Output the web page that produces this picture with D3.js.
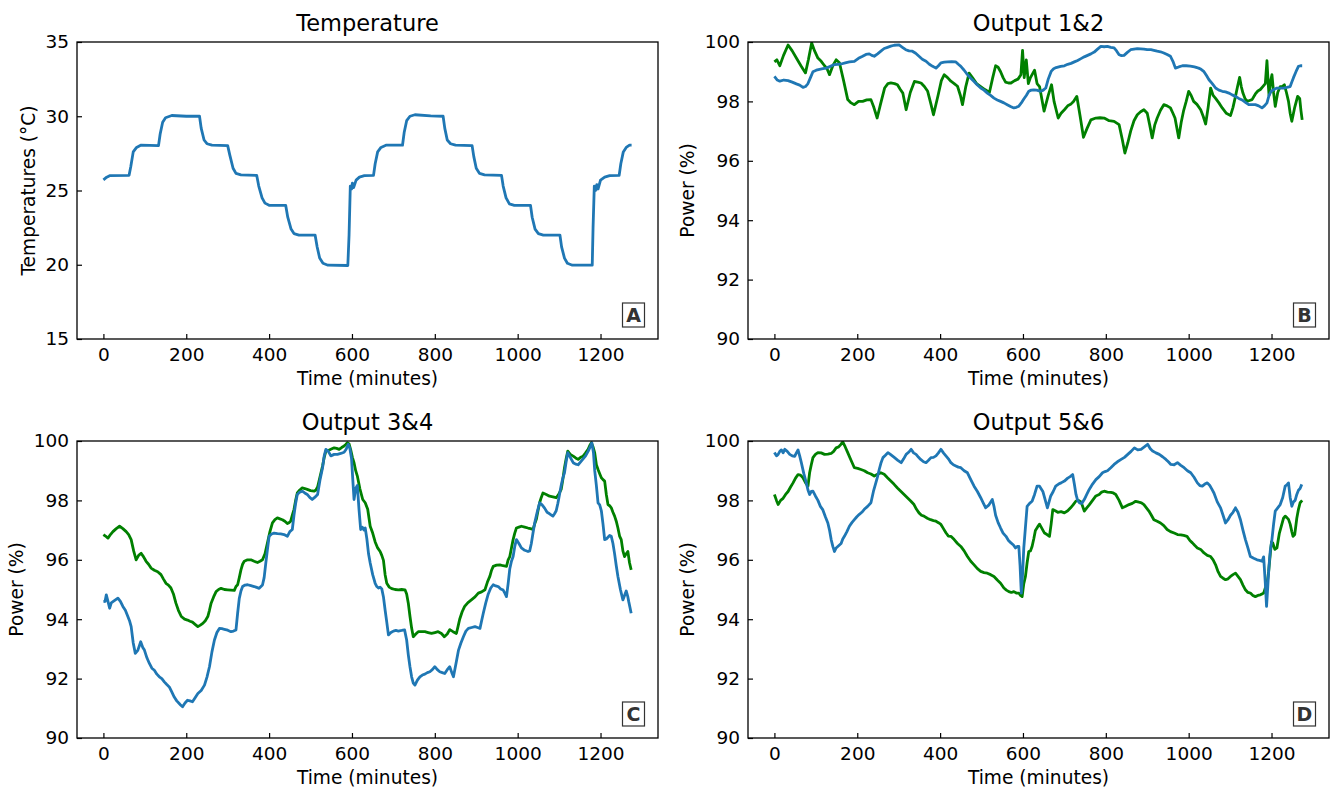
<!DOCTYPE html>
<html>
<head>
<meta charset="utf-8">
<script src="https://cdn.jsdelivr.net/npm/d3@7"></script>
<style>
  body { margin: 0; background: #fff; }
  svg { font-family: "DejaVu Sans", sans-serif; }
</style>
</head>
<body>
<div id="chart"></div>
<script>
// Values: [time (minutes), value]
const temperature = [[0,25.72],[8,25.9],[15,26.0],[62,26.02],[66,26.6],[72,27.6],[80,27.9],[90,28.05],[133,28.02],[137,28.8],[143,29.6],[150,29.9],[165,30.05],[200,30.0],[232,30.0],[236,29.2],[243,28.4],[250,28.15],[262,28.05],[300,28.02],[305,27.4],[313,26.5],[320,26.15],[332,26.05],[370,26.02],[375,25.3],[383,24.5],[390,24.15],[400,24.0],[440,24.0],[445,23.2],[453,22.4],[460,22.1],[472,22.0],[511,22.0],[516,21.2],[522,20.45],[530,20.1],[542,19.97],[590,19.95],[593,22.0],[596,25.3],[599,25.1],[601,25.5],[604,25.2],[610,25.7],[618,25.9],[630,26.0],[652,26.02],[656,26.8],[662,27.6],[670,27.9],[682,28.05],[722,28.05],[726,28.9],[732,29.7],[740,30.0],[752,30.1],[790,30.02],[820,30.0],[824,29.2],[830,28.4],[838,28.15],[850,28.05],[890,28.02],[894,27.3],[900,26.5],[908,26.15],[920,26.05],[961,26.02],[965,25.3],[972,24.5],[980,24.1],[992,24.0],[1031,24.0],[1035,23.2],[1042,22.4],[1050,22.1],[1062,22.0],[1102,22.0],[1106,21.2],[1113,20.45],[1120,20.1],[1132,19.97],[1180,19.97],[1182,22.5],[1185,25.3],[1188,25.0],[1191,25.4],[1194,25.1],[1200,25.7],[1210,25.9],[1222,26.0],[1245,26.02],[1249,26.8],[1255,27.6],[1262,27.9],[1270,28.05],[1275,28.05]];

const output1 = [[0,98.84],[7,98.72],[13,98.68],[23,98.72],[33,98.7],[43,98.65],[53,98.59],[61,98.55],[69,98.47],[75,98.5],[81,98.6],[87,98.8],[93,99.0],[101,99.05],[109,99.08],[117,99.1],[125,99.12],[135,99.18],[145,99.24],[153,99.25],[161,99.26],[171,99.3],[181,99.33],[193,99.35],[203,99.45],[213,99.52],[221,99.58],[229,99.6],[235,99.55],[241,99.52],[249,99.6],[257,99.69],[265,99.78],[273,99.82],[281,99.86],[289,99.89],[301,99.9],[309,99.82],[317,99.74],[325,99.7],[333,99.69],[341,99.62],[349,99.52],[357,99.42],[366,99.35],[374,99.25],[382,99.18],[390,99.12],[396,99.2],[402,99.3],[410,99.32],[418,99.33],[428,99.34],[438,99.33],[444,99.25],[450,99.18],[458,99.05],[466,98.9],[474,98.78],[482,98.67],[490,98.55],[498,98.45],[506,98.38],[514,98.28],[522,98.2],[530,98.11],[538,98.05],[546,98.0],[554,97.95],[562,97.89],[570,97.83],[578,97.78],[584,97.8],[590,97.84],[596,97.95],[602,98.08],[608,98.2],[614,98.34],[620,98.38],[626,98.39],[633,98.38],[643,98.34],[649,98.38],[655,98.45],[661,98.75],[668,99.01],[674,99.1],[680,99.14],[691,99.18],[700,99.2],[708,99.25],[716,99.28],[724,99.33],[732,99.38],[740,99.44],[748,99.5],[756,99.55],[764,99.6],[772,99.66],[780,99.76],[788,99.85],[796,99.84],[804,99.85],[812,99.82],[820,99.8],[826,99.7],[832,99.57],[838,99.54],[844,99.55],[852,99.65],[860,99.74],[868,99.76],[876,99.78],[884,99.77],[892,99.76],[900,99.74],[909,99.74],[916,99.72],[924,99.69],[932,99.67],[940,99.63],[948,99.58],[956,99.52],[962,99.35],[968,99.12],[976,99.16],[985,99.2],[994,99.2],[1004,99.19],[1014,99.16],[1024,99.12],[1030,99.08],[1037,99.0],[1043,98.87],[1049,98.73],[1057,98.6],[1065,98.45],[1073,98.38],[1081,98.34],[1089,98.32],[1097,98.28],[1105,98.22],[1113,98.17],[1121,98.1],[1129,98.05],[1137,97.97],[1145,97.89],[1153,97.89],[1161,97.89],[1169,97.85],[1177,97.78],[1183,97.85],[1189,97.95],[1194,98.2],[1199,98.34],[1206,98.4],[1213,98.45],[1221,98.45],[1229,98.45],[1237,98.47],[1245,98.5],[1249,98.65],[1253,98.8],[1259,99.0],[1265,99.18],[1270,99.2],[1274,99.2]];

const output2 = [[0,99.33],[6,99.4],[13,99.2],[22,99.55],[33,99.9],[43,99.7],[53,99.46],[64,99.2],[75,98.96],[82,99.4],[90,99.97],[97,99.7],[105,99.46],[113,99.35],[121,99.2],[127,99.1],[133,98.9],[141,99.2],[149,99.4],[157,99.3],[167,98.7],[177,98.06],[185,97.95],[193,97.89],[203,98.0],[213,98.0],[223,98.05],[233,98.06],[240,97.8],[248,97.44],[256,97.9],[266,98.45],[274,98.6],[281,98.62],[290,98.6],[297,98.56],[304,98.4],[310,98.28],[318,97.72],[328,98.3],[338,98.67],[346,98.65],[354,98.62],[362,98.5],[370,98.34],[378,97.9],[384,97.55],[395,98.2],[403,98.7],[410,98.9],[418,98.8],[426,98.68],[434,98.6],[442,98.51],[449,98.2],[454,97.89],[462,98.5],[470,98.95],[478,98.8],[488,98.6],[498,98.5],[508,98.4],[519,98.3],[527,98.8],[534,99.2],[540,99.15],[546,99.0],[552,98.8],[558,98.65],[565,98.62],[571,98.62],[580,98.7],[588,98.75],[595,98.9],[599,99.72],[603,98.8],[608,99.4],[613,98.6],[618,98.8],[622,98.9],[628,99.05],[634,98.6],[640,98.5],[651,97.67],[661,98.2],[669,98.56],[675,98.0],[685,97.44],[692,97.6],[700,97.72],[708,97.85],[715,97.9],[722,98.0],[730,98.17],[738,97.5],[746,96.79],[755,97.1],[764,97.38],[776,97.44],[786,97.45],[796,97.44],[808,97.35],[820,97.33],[832,97.22],[840,96.7],[846,96.26],[853,96.6],[860,97.0],[868,97.35],[876,97.55],[884,97.65],[892,97.72],[900,97.6],[906,97.2],[912,96.77],[918,97.2],[924,97.44],[932,97.7],[940,97.89],[948,97.85],[956,97.78],[962,97.6],[967,97.44],[976,96.77],[982,97.3],[988,97.7],[994,98.0],[1000,98.34],[1006,98.2],[1012,98.0],[1020,97.9],[1029,97.72],[1035,97.5],[1041,97.24],[1047,97.8],[1053,98.45],[1059,98.2],[1065,98.1],[1073,97.95],[1081,97.78],[1091,97.6],[1101,97.52],[1107,97.8],[1113,98.17],[1118,98.5],[1123,98.81],[1127,98.5],[1131,98.28],[1136,98.1],[1141,98.0],[1147,98.03],[1153,98.06],[1161,98.25],[1167,98.35],[1173,98.4],[1179,98.5],[1185,98.6],[1189,99.37],[1192,98.6],[1194,98.2],[1198,98.7],[1201,98.9],[1205,98.3],[1209,97.83],[1215,98.3],[1221,98.5],[1226,98.5],[1231,98.56],[1236,98.3],[1241,98.0],[1245,97.6],[1249,97.33],[1256,97.8],[1263,98.17],[1268,98.1],[1271,97.7],[1274,97.38]];

const output3 = [[0,94.59],[4,94.6],[7,94.82],[11,94.6],[15,94.37],[19,94.55],[23,94.59],[29,94.65],[35,94.71],[41,94.6],[47,94.43],[53,94.3],[59,94.09],[63,93.95],[67,93.75],[72,93.2],[77,92.85],[83,92.95],[90,93.24],[95,93.05],[99,92.96],[105,92.7],[111,92.51],[117,92.35],[123,92.28],[129,92.15],[135,92.06],[141,92.0],[147,91.89],[153,91.8],[159,91.72],[165,91.55],[171,91.38],[177,91.25],[183,91.16],[187,91.1],[191,91.05],[197,91.18],[203,91.27],[209,91.25],[215,91.22],[221,91.35],[228,91.5],[236,91.6],[244,91.78],[250,92.05],[256,92.4],[262,92.9],[268,93.3],[274,93.55],[280,93.69],[286,93.68],[292,93.66],[300,93.63],[308,93.58],[314,93.6],[320,93.64],[324,94.2],[328,94.7],[332,94.95],[336,95.1],[342,95.15],[348,95.16],[356,95.13],[364,95.1],[370,95.07],[376,95.04],[384,95.15],[388,95.4],[392,95.89],[396,96.35],[400,96.79],[406,96.87],[412,96.9],[420,96.88],[428,96.87],[436,96.85],[444,96.79],[450,96.95],[456,97.02],[460,97.5],[464,97.9],[468,98.2],[474,98.28],[480,98.31],[486,98.25],[492,98.2],[498,98.1],[504,98.03],[510,98.1],[517,98.2],[523,98.7],[529,99.1],[533,99.5],[537,99.72],[543,99.65],[549,99.5],[557,99.55],[565,99.55],[573,99.58],[581,99.62],[586,99.72],[591,99.89],[595,99.75],[599,99.4],[602,98.7],[605,98.03],[609,98.4],[613,98.5],[617,97.7],[621,97.02],[625,97.1],[629,97.0],[632,97.07],[636,96.7],[640,96.2],[644,95.89],[650,95.5],[656,95.21],[660,95.1],[664,95.05],[668,95.08],[672,95.02],[676,94.75],[680,94.31],[684,93.9],[688,93.47],[694,93.55],[700,93.6],[706,93.62],[712,93.6],[720,93.62],[727,93.64],[732,93.3],[736,92.8],[740,92.4],[744,92.06],[748,91.85],[752,91.78],[758,91.95],[764,92.06],[770,92.12],[776,92.15],[782,92.2],[788,92.23],[794,92.3],[800,92.4],[806,92.3],[812,92.23],[818,92.2],[824,92.17],[830,92.3],[836,92.4],[841,92.2],[845,92.06],[851,92.5],[857,92.95],[863,93.2],[869,93.41],[875,93.6],[881,93.69],[889,93.72],[897,93.75],[903,93.72],[909,93.69],[913,93.95],[917,94.2],[923,94.55],[929,94.85],[935,95.05],[941,95.16],[947,95.12],[953,95.1],[959,95.02],[965,94.98],[969,94.88],[973,94.76],[977,95.2],[981,95.7],[985,95.95],[989,96.11],[993,96.45],[997,96.68],[1003,96.55],[1009,96.4],[1017,96.32],[1025,96.28],[1029,96.3],[1033,96.55],[1037,96.9],[1041,97.24],[1047,97.6],[1053,97.92],[1059,97.85],[1065,97.74],[1071,97.6],[1077,97.55],[1085,97.47],[1089,97.55],[1093,97.65],[1097,97.9],[1101,98.2],[1105,98.5],[1109,98.75],[1113,98.93],[1117,99.3],[1121,99.61],[1127,99.45],[1134,99.27],[1140,99.22],[1146,99.2],[1152,99.3],[1158,99.4],[1164,99.5],[1170,99.65],[1175,99.8],[1179,99.94],[1183,99.6],[1186,99.0],[1190,98.5],[1194,97.92],[1198,97.85],[1202,97.65],[1206,97.2],[1210,96.68],[1214,96.7],[1218,96.76],[1222,96.82],[1226,96.79],[1230,96.55],[1234,96.2],[1238,95.8],[1242,95.44],[1248,95.0],[1254,94.65],[1258,94.8],[1262,94.95],[1266,94.75],[1268,94.6],[1271,94.4],[1274,94.2]];

const output4 = [[0,96.85],[5,96.8],[11,96.73],[17,96.85],[23,96.95],[31,97.05],[39,97.13],[47,97.05],[55,96.95],[61,96.85],[67,96.68],[73,96.3],[79,96.0],[85,96.15],[91,96.22],[97,96.1],[103,95.95],[109,95.85],[115,95.72],[123,95.65],[131,95.6],[139,95.5],[145,95.35],[151,95.21],[157,95.15],[163,95.05],[169,94.85],[175,94.54],[181,94.3],[188,94.09],[196,94.0],[203,93.97],[209,93.93],[215,93.9],[222,93.82],[228,93.75],[234,93.8],[240,93.86],[246,93.95],[252,94.09],[256,94.3],[260,94.54],[266,94.75],[272,94.93],[278,95.0],[284,95.04],[292,95.0],[300,94.99],[308,94.98],[316,94.97],[320,95.1],[324,95.16],[328,95.4],[332,95.66],[336,95.85],[340,95.95],[348,96.0],[356,96.0],[364,95.95],[372,95.91],[378,95.95],[384,96.0],[390,96.2],[396,96.57],[402,96.95],[408,97.24],[414,97.35],[420,97.41],[426,97.38],[432,97.35],[438,97.3],[444,97.22],[448,97.25],[452,97.3],[456,97.5],[460,97.69],[464,98.0],[468,98.25],[474,98.35],[480,98.42],[486,98.4],[492,98.37],[500,98.33],[509,98.31],[513,98.35],[517,98.45],[523,98.8],[529,99.16],[533,99.45],[537,99.66],[543,99.68],[549,99.72],[557,99.77],[563,99.75],[569,99.72],[575,99.78],[581,99.83],[585,99.88],[589,99.94],[593,99.9],[597,99.7],[601,99.45],[605,99.27],[609,99.0],[613,98.82],[619,98.4],[626,98.03],[632,97.92],[638,97.7],[644,97.13],[650,96.9],[656,96.6],[662,96.4],[668,96.28],[672,96.15],[676,95.98],[680,95.5],[684,95.21],[690,95.08],[696,95.03],[704,95.0],[712,94.99],[720,95.0],[728,94.99],[732,94.85],[736,94.54],[740,94.1],[744,93.7],[748,93.41],[754,93.5],[760,93.58],[768,93.58],[776,93.58],[784,93.55],[792,93.52],[800,93.55],[808,93.58],[816,93.52],[823,93.41],[830,93.5],[836,93.65],[844,93.58],[852,93.52],[856,93.75],[860,94.0],[866,94.25],[872,94.43],[880,94.56],[889,94.66],[897,94.75],[905,94.88],[913,94.92],[921,94.99],[927,95.25],[933,95.45],[937,95.65],[941,95.78],[949,95.82],[957,95.83],[965,95.8],[973,95.78],[977,96.0],[981,96.11],[985,96.4],[989,96.68],[993,96.9],[997,97.07],[1003,97.1],[1009,97.13],[1017,97.1],[1025,97.07],[1031,97.05],[1037,97.02],[1041,97.2],[1045,97.36],[1049,97.65],[1053,97.92],[1057,98.1],[1061,98.25],[1069,98.2],[1077,98.14],[1085,98.12],[1093,98.09],[1099,98.2],[1105,98.37],[1109,98.7],[1113,99.1],[1117,99.4],[1121,99.66],[1127,99.55],[1134,99.49],[1140,99.43],[1146,99.38],[1152,99.45],[1158,99.49],[1164,99.6],[1170,99.72],[1174,99.85],[1178,99.94],[1182,99.8],[1186,99.6],[1190,99.2],[1194,99.04],[1198,98.9],[1202,98.76],[1206,98.7],[1210,98.65],[1214,98.2],[1218,97.86],[1222,97.82],[1226,97.75],[1230,97.6],[1234,97.47],[1238,97.3],[1242,97.07],[1246,96.8],[1250,96.68],[1254,96.3],[1258,96.11],[1262,96.2],[1266,96.28],[1270,95.9],[1274,95.66]];

const output5 = [[0,99.61],[5,99.5],[9,99.55],[13,99.65],[17,99.7],[21,99.6],[25,99.72],[31,99.65],[37,99.55],[43,99.5],[49,99.48],[53,99.6],[57,99.7],[61,99.5],[65,99.27],[71,98.9],[77,98.59],[81,98.35],[85,98.2],[89,98.3],[93,98.31],[99,98.15],[105,98.0],[111,97.8],[117,97.68],[123,97.45],[129,97.24],[133,97.0],[137,96.68],[141,96.45],[145,96.28],[149,96.4],[153,96.45],[157,96.5],[161,96.55],[165,96.7],[169,96.79],[175,96.95],[181,97.13],[187,97.25],[193,97.35],[199,97.45],[205,97.53],[211,97.6],[217,97.7],[225,97.8],[233,97.92],[239,98.3],[245,98.6],[249,98.8],[253,99.04],[257,99.25],[262,99.44],[268,99.52],[274,99.61],[280,99.55],[290,99.44],[298,99.35],[306,99.27],[312,99.4],[318,99.55],[324,99.62],[330,99.72],[336,99.6],[342,99.55],[348,99.45],[353,99.38],[360,99.3],[366,99.27],[372,99.35],[378,99.44],[384,99.45],[390,99.5],[396,99.6],[402,99.72],[408,99.6],[414,99.5],[420,99.4],[426,99.27],[432,99.2],[438,99.16],[444,99.12],[450,99.1],[458,99.0],[466,98.93],[474,98.7],[482,98.48],[490,98.3],[498,98.09],[504,97.92],[510,97.75],[518,97.85],[526,98.03],[530,97.8],[534,97.5],[540,97.25],[546,97.07],[552,96.9],[559,96.79],[565,96.65],[571,96.57],[577,96.5],[582,96.4],[586,96.45],[590,96.45],[593,95.8],[596,94.88],[599,95.5],[602,96.4],[606,97.1],[610,97.8],[616,97.9],[622,97.97],[628,98.2],[634,98.48],[640,98.48],[648,98.3],[654,98.0],[659,97.75],[663,97.95],[667,98.15],[673,98.3],[679,98.48],[686,98.55],[692,98.59],[700,98.65],[708,98.75],[714,98.8],[720,98.87],[724,98.55],[728,98.2],[732,98.0],[736,97.92],[742,97.9],[748,98.03],[754,98.2],[760,98.37],[768,98.55],[776,98.7],[784,98.8],[792,98.93],[798,98.97],[804,99.0],[812,99.1],[820,99.21],[828,99.3],[837,99.38],[845,99.45],[853,99.55],[861,99.65],[869,99.77],[877,99.7],[885,99.72],[893,99.8],[901,99.89],[907,99.75],[913,99.66],[921,99.6],[929,99.55],[937,99.47],[945,99.38],[951,99.3],[957,99.21],[965,99.2],[973,99.27],[981,99.18],[989,99.1],[997,99.0],[1005,98.93],[1013,98.78],[1021,98.59],[1027,98.5],[1033,98.48],[1039,98.55],[1045,98.59],[1051,98.5],[1056,98.38],[1061,98.25],[1069,97.95],[1077,97.75],[1083,97.5],[1089,97.24],[1095,97.35],[1101,97.5],[1107,97.6],[1113,97.75],[1119,97.6],[1125,97.35],[1131,97.0],[1137,96.68],[1143,96.4],[1149,96.11],[1157,96.05],[1165,96.0],[1171,95.98],[1177,95.95],[1181,96.1],[1185,95.21],[1188,94.43],[1191,95.1],[1194,95.8],[1197,96.3],[1201,96.68],[1205,97.2],[1209,97.64],[1215,97.75],[1221,97.86],[1227,98.1],[1233,98.48],[1237,98.52],[1241,98.59],[1245,98.1],[1249,97.8],[1253,97.95],[1257,98.0],[1261,98.2],[1265,98.34],[1269,98.4],[1273,98.54]];

const output6 = [[0,98.2],[5,98.0],[9,97.86],[15,98.0],[21,98.07],[27,98.2],[33,98.3],[39,98.45],[45,98.59],[51,98.75],[57,98.87],[63,98.85],[69,98.76],[75,98.6],[81,98.48],[85,98.93],[89,99.2],[93,99.44],[99,99.55],[105,99.61],[113,99.6],[121,99.55],[129,99.56],[137,99.58],[143,99.65],[149,99.77],[155,99.8],[160,99.88],[165,99.97],[171,99.8],[177,99.61],[185,99.35],[193,99.1],[201,99.08],[209,99.04],[217,99.0],[225,98.93],[233,98.89],[241,98.82],[249,98.88],[257,98.93],[265,98.88],[273,98.76],[281,98.65],[289,98.54],[297,98.42],[305,98.31],[313,98.2],[321,98.09],[329,97.98],[337,97.86],[343,97.7],[349,97.58],[355,97.5],[361,97.47],[369,97.4],[377,97.35],[384,97.32],[390,97.3],[396,97.25],[402,97.19],[408,97.05],[414,96.91],[420,96.8],[426,96.79],[434,96.68],[442,96.55],[450,96.45],[458,96.3],[466,96.11],[474,95.95],[482,95.83],[490,95.7],[498,95.61],[506,95.57],[514,95.55],[522,95.5],[530,95.44],[538,95.32],[546,95.21],[554,95.05],[560,94.98],[566,94.93],[572,94.9],[578,94.93],[584,94.88],[590,94.88],[594,94.8],[598,94.76],[602,95.2],[606,95.44],[610,95.9],[614,96.28],[618,96.3],[622,96.45],[626,96.7],[630,96.99],[635,97.1],[640,97.2],[646,97.05],[652,96.9],[658,96.85],[664,96.79],[668,97.2],[672,97.69],[678,97.65],[684,97.6],[692,97.62],[700,97.58],[708,97.65],[715,97.75],[721,97.85],[728,97.98],[734,98.0],[740,97.95],[744,97.8],[748,97.64],[754,97.75],[760,97.85],[768,98.0],[776,98.15],[784,98.2],[790,98.28],[796,98.31],[804,98.28],[812,98.27],[818,98.25],[824,98.2],[832,98.0],[840,97.75],[848,97.8],[856,97.86],[864,97.9],[872,97.97],[880,97.94],[886,97.92],[892,97.86],[898,97.75],[904,97.64],[910,97.5],[916,97.35],[924,97.3],[932,97.24],[940,97.15],[948,97.02],[956,96.95],[965,96.9],[973,96.85],[981,96.84],[988,96.82],[996,96.79],[1003,96.65],[1009,96.57],[1015,96.48],[1021,96.4],[1029,96.35],[1037,96.23],[1045,96.15],[1053,96.11],[1059,96.0],[1065,95.83],[1071,95.6],[1077,95.44],[1083,95.38],[1089,95.33],[1095,95.36],[1101,95.44],[1107,95.5],[1113,95.55],[1119,95.44],[1125,95.33],[1131,95.15],[1137,94.99],[1143,94.9],[1149,94.88],[1155,94.8],[1161,94.76],[1167,94.8],[1173,94.82],[1177,94.85],[1181,94.88],[1185,95.05],[1189,95.16],[1193,95.6],[1197,96.2],[1200,96.6],[1203,96.57],[1208,96.35],[1213,96.4],[1219,96.9],[1225,97.2],[1229,97.4],[1233,97.47],[1237,97.42],[1241,97.36],[1245,97.2],[1249,96.95],[1252,96.79],[1256,96.85],[1261,97.4],[1265,97.7],[1269,97.92],[1274,98.0]];

// Axis ticks
const timeTicks = [0, 200, 400, 600, 800, 1000, 1200];
const tempTicks = [15, 20, 25, 30, 35];
const powerTicks = [90, 92, 94, 96, 98, 100];

const blue = "#1f77b4", green = "green";

// One entry per subplot (positions in page pixels)
const panels = [
    {title: "Temperature", tag: "A", left: 77, top: 42, yDomain: [15, 35], yTicks: tempTicks,
     ylabel: "Temperatures (°C)", labelOffset: 49, series: [[temperature, blue]]},
    {title: "Output 1&2", tag: "B", left: 748, top: 42, yDomain: [90, 100], yTicks: powerTicks,
     ylabel: "Power (%)", labelOffset: 61, series: [[output2, green], [output1, blue]]},
    {title: "Output 3&4", tag: "C", left: 77, top: 441, yDomain: [90, 100], yTicks: powerTicks,
     ylabel: "Power (%)", labelOffset: 61, series: [[output4, green], [output3, blue]]},
    {title: "Output 5&6", tag: "D", left: 748, top: 441, yDomain: [90, 100], yTicks: powerTicks,
     ylabel: "Power (%)", labelOffset: 61, series: [[output6, green], [output5, blue]]}
];

const width = 581, height = 297;

const svg = d3.select("#chart")
  .append("svg")
    .attr("width", 1330)
    .attr("height", 787);

panels.forEach(function(p) {
    const g = svg.append("g")
        .attr("transform", `translate(${p.left},${p.top})`);

    // matplotlib style 5% margins around 0..1275
    const x = d3.scaleLinear()
        .domain([-63.75, 1338.75])
        .range([0, width]);

    const y = d3.scaleLinear()
        .domain(p.yDomain)
        .range([height, 0]);

    const line = d3.line()
        .x(d => x(d[0]))
        .y(d => y(d[1]));

    // Clip lines to the plot frame
    const clipId = "clip-" + p.tag;
    g.append("clipPath").attr("id", clipId)
      .append("rect").attr("width", width).attr("height", height);

    p.series.forEach(function(s) {
        g.append("path")
            .datum(s[0])
            .attr("clip-path", `url(#${clipId})`)
            .attr("fill", "none")
            .attr("stroke", s[1])
            .attr("stroke-width", 2.8)
            .attr("stroke-linejoin", "round")
            .attr("d", line);
    });

    // Bottom axis, ticks pointing inward
    g.append("g")
        .attr("transform", `translate(0,${height})`)
        .call(d3.axisBottom(x).tickValues(timeTicks).tickFormat(d3.format("d")).tickSize(-5).tickPadding(9))
        .call(a => a.select(".domain").remove())
        .call(a => a.selectAll("line").attr("stroke", "#000").attr("stroke-width", 1.2))
        .call(a => a.selectAll("text").attr("fill", "#000").style("font-size", "18.5px")
            .style("font-family", "DejaVu Sans"));

    // Left axis
    g.append("g")
        .call(d3.axisLeft(y).tickValues(p.yTicks).tickFormat(d3.format("d")).tickSize(-5).tickPadding(8))
        .call(a => a.select(".domain").remove())
        .call(a => a.selectAll("line").attr("stroke", "#000").attr("stroke-width", 1.2))
        .call(a => a.selectAll("text").attr("fill", "#000").style("font-size", "18.5px")
            .style("font-family", "DejaVu Sans"));

    // Frame on all four sides
    g.append("rect")
        .attr("width", width)
        .attr("height", height)
        .attr("fill", "none")
        .attr("stroke", "#000")
        .attr("stroke-width", 1.3);

    // Title
    g.append("text")
        .attr("x", width / 2)
        .attr("y", -11)
        .attr("text-anchor", "middle")
        .style("font-size", "22.5px")
        .text(p.title);

    // X label
    g.append("text")
        .attr("x", width / 2)
        .attr("y", height + 46)
        .attr("text-anchor", "middle")
        .style("font-size", "18.6px")
        .text("Time (minutes)");

    // Y label
    g.append("text")
        .attr("transform", `translate(${-p.labelOffset},${height / 2}) rotate(-90)`)
        .attr("text-anchor", "middle")
        .attr("dy", "0.35em")
        .style("font-size", "18.6px")
        .text(p.ylabel);

    // Boxed panel letter in the lower right corner
    const bw = 22, bh = 24;
    const bx = width - 13.5 - bw, by = height - 12 - bh;
    g.append("rect")
        .attr("x", bx).attr("y", by)
        .attr("width", bw).attr("height", bh)
        .attr("fill", "#fff")
        .attr("stroke", "#333")
        .attr("stroke-width", 1.2);
    g.append("text")
        .attr("x", bx + bw / 2)
        .attr("y", by + bh / 2)
        .attr("dy", "0.36em")
        .attr("text-anchor", "middle")
        .attr("fill", "#333")
        .style("font-size", "19px")
        .style("font-weight", "bold")
        .text(p.tag);
});
</script>
</body>
</html>
